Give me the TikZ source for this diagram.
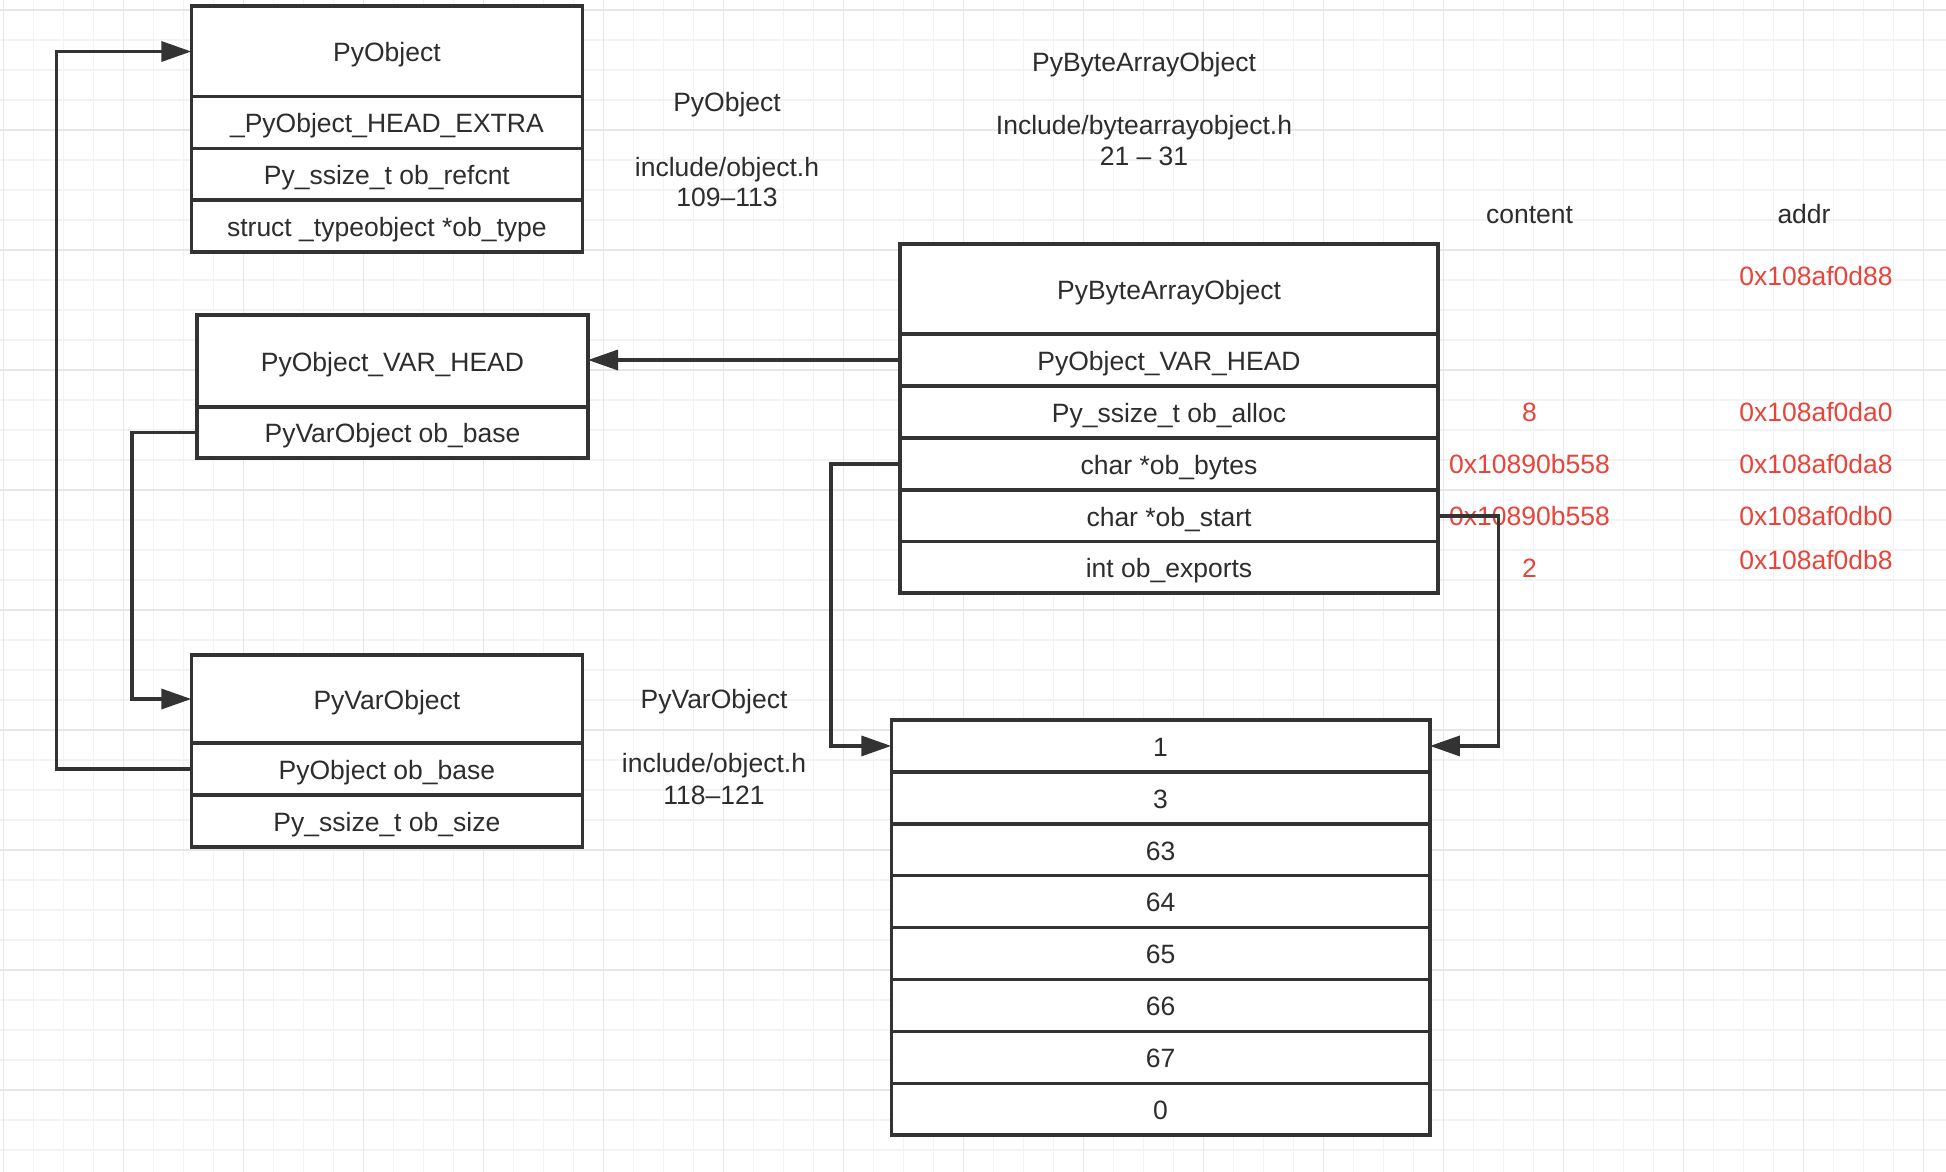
\documentclass[tikz,border=0pt]{standalone}
\usepackage{fontspec}
\setmainfont{Liberation Sans}
\usetikzlibrary{arrows.meta,calc}
\definecolor{ink}{RGB}{51,51,51}
\definecolor{txt}{RGB}{45,45,45}
\definecolor{redt}{RGB}{232,68,58}
\definecolor{gridminor}{RGB}{243,243,243}
\definecolor{gridmajor}{RGB}{231,231,231}
\begin{document}
\begin{tikzpicture}[x=1pt,y=-1pt,
  every node/.style={font=\fontsize{26.5}{32}\selectfont, text=txt, text height=22pt, text depth=1.5pt, inner sep=0pt, outer sep=0pt},
  cell/.style={draw=ink, line width=3.5pt, fill=white, anchor=center},
  boxA/.style={cell, minimum width=391.2pt},
  boxB/.style={cell, minimum width=391pt},
  boxD/.style={cell, minimum width=538pt},
  boxE/.style={cell, minimum width=538.7pt, minimum height=51.9pt},
  lbl/.style={text=txt},
  val/.style={text=redt},
  conn/.style={draw=ink, line width=3.5pt, -{Triangle[length=30pt,width=20pt]}},
  gmin/.style={draw=gridminor, line width=1.6pt},
  gmaj/.style={draw=gridmajor, line width=1.8pt}
]
\useasboundingbox (0,0) rectangle (1946,1172);
\fill[white] (0,0) rectangle (1946,1172);
% grid
\foreach \k in {0,...,64} \draw[gmin] ({3.5+30*\k},0) -- ({3.5+30*\k},1172);
\foreach \k in {0,...,38} \draw[gmin] (0,{10+30*\k}) -- (1946,{10+30*\k});
\foreach \k in {0,...,16} \draw[gmaj] ({3.5+120*\k},0) -- ({3.5+120*\k},1172);
\foreach \k in {0,...,9} \draw[gmaj] (0,{10+120*\k}) -- (1946,{10+120*\k});

% free labels
\node[lbl] (t1) at (727,101.7) {PyObject};
\node[lbl] (t2) at (727,166) {include/object.h};
\node[lbl] (t3) at (727,196.7) {109–113};
\node[lbl] (t4) at (714,698.7) {PyVarObject};
\node[lbl] (t5) at (714,762) {include/object.h};
\node[lbl] (t6) at (714,794) {118–121};
\node[lbl] (t7) at (1144,61) {PyByteArrayObject};
\node[lbl] (t8) at (1144,124) {Include/bytearrayobject.h};
\node[lbl] (t9) at (1144,155) {21 – 31};
\node[lbl] (h1) at (1529.5,213) {content};
\node[lbl] (h2) at (1804,213) {addr};
\node[val] (v0) at (1816,275) {0x108af0d88};
\node[val] (v1) at (1529.5,411) {8};
\node[val] (v2) at (1816,411) {0x108af0da0};
\node[val] (v3) at (1529.5,463) {0x10890b558};
\node[val] (v4) at (1816,463) {0x108af0da8};
\node[val] (v5) at (1529.5,515) {0x10890b558};
\node[val] (v6) at (1816,515) {0x108af0db0};
\node[val] (v7) at (1816,559) {0x108af0db8};
\node[val] (v8) at (1529.5,567) {2};

% PyObject
\node[boxA, minimum height=91pt] (a0) at (386.9,51.5) {PyObject};
\node[boxA, minimum height=51.7pt] (a1) at (386.9,122.4) {\_PyObject\_HEAD\_EXTRA};
\node[boxA, minimum height=51.7pt] (a2) at (386.9,174.2) {Py\_ssize\_t ob\_refcnt};
\node[boxA, minimum height=51.7pt] (a3) at (386.9,226.1) {struct \_typeobject *ob\_type};

% PyObject_VAR_HEAD
\node[boxB, minimum height=92pt] (b0) at (392.5,361) {PyObject\_VAR\_HEAD};
\node[boxB, minimum height=51pt] (b1) at (392.5,432.5) {PyVarObject ob\_base};

% PyVarObject
\node[boxA, minimum height=88pt] (c0) at (386.9,699) {PyVarObject};
\node[boxA, minimum height=52pt] (c1) at (386.9,769) {PyObject ob\_base};
\node[boxA, minimum height=52pt] (c2) at (386.9,821) {Py\_ssize\_t ob\_size};

% PyByteArrayObject
\node[boxD, minimum height=90pt] (d0) at (1169,289) {PyByteArrayObject};
\node[boxD, minimum height=52pt] (d1) at (1169,360) {PyObject\_VAR\_HEAD};
\node[boxD, minimum height=52pt] (d2) at (1169,412) {Py\_ssize\_t ob\_alloc};
\node[boxD, minimum height=52pt] (d3) at (1169,464) {char *ob\_bytes};
\node[boxD, minimum height=51.5pt] (d4) at (1169,515.75) {char *ob\_start};
\node[boxD, minimum height=51.5pt] (d5) at (1169,567.25) {int ob\_exports};

% byte buffer
\foreach \v [count=\i from 0] in {1,3,63,64,65,66,67,0}
  \node[boxE] (e\i) at (1160.6,{745.95+51.9*\i}) {\v};

% rails
\coordinate (railA) at (56.6,0);
\coordinate (railB) at (132,0);
\coordinate (railC) at (831,0);
\coordinate (railD) at (1498.5,0);

% connectors
\draw[conn] (c1.west) -| (railA |- a0.west) -- (a0.west);
\draw[conn] (b1.west) -| (railB |- c0.west) -- (c0.west);
\draw[conn] (d1.west) -- (d1.west -| b0.east);
\draw[conn] (d3.west) -| (railC |- e0.west) -- (e0.west);
\draw[conn] (d4.east) -| (railD |- e0.east) -- (e0.east);
\end{tikzpicture}
\end{document}
